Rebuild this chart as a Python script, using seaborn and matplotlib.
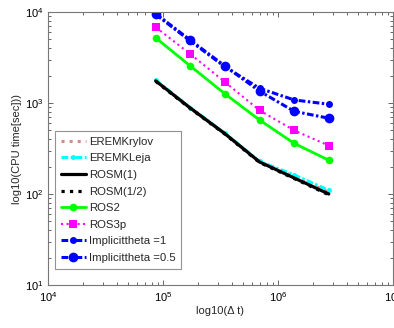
import numpy as np
import pandas as pd
import matplotlib
matplotlib.use("Agg")
import matplotlib.pyplot as plt
import matplotlib.ticker as mticker
import seaborn as sns

# time steps (1 day, 2 days, 4 days, ...) in seconds
dt = [86400, 172800, 345600, 691200, 1382400, 2764800]

# CPU times [sec]
erem_krylov = [1760, 875, 458, 226, 155, 105]
erem_leja = [1780, 890, 465, 228, 162, 110]
rosm_1 = [1750, 880, 460, 225, 150, 100]
rosm_half = [1730, 870, 455, 222, 148, 98]
ros2 = [5200, 2550, 1260, 650, 360, 235]
ros3p = [6800, 3450, 1700, 830, 500, 340]
implicit_1 = [9400, 4800, 2500, 1450, 1080, 970]
implicit_half = [9600, 4900, 2550, 1350, 810, 680]

dashdot = (0, (2.2, 0.8, 0.8, 0.8))
series = [
    ("EREMKrylov", erem_krylov, dict(color="#d88a8a", linestyle=":", lw=2.2)),
    ("EREMKLeja", erem_leja, dict(color="#00ffff", linestyle=dashdot, lw=2.2, marker="o", ms=3.5)),
    ("ROSM(1)", rosm_1, dict(color="black", linestyle="-", lw=2.3)),
    ("ROSM(1/2)", rosm_half, dict(color="black", linestyle=":", lw=2.3)),
    ("ROS2", ros2, dict(color="#00ff00", linestyle="-", lw=2.0, marker="o", ms=5.5)),
    ("ROS3p", ros3p, dict(color="#ff00ff", linestyle=":", lw=1.5, marker="s", ms=6)),
    ("Implicittheta =1", implicit_1, dict(color="#0000ff", linestyle=dashdot, lw=2.2, marker="o", ms=5)),
    ("Implicittheta =0.5", implicit_half, dict(color="#0000ff", linestyle=dashdot, lw=2.2, marker="o", ms=7)),
]

sns.set_theme(style="ticks")
plt.rcParams["font.family"] = ["Liberation Sans", "DejaVu Sans"]
plt.rcParams["xtick.direction"] = "in"
plt.rcParams["ytick.direction"] = "in"
plt.rcParams["xtick.top"] = True
plt.rcParams["ytick.right"] = True

fig = plt.figure(figsize=(3.94, 3.28), dpi=100)
ax = fig.add_axes([48 / 394, 43 / 328, 345 / 394, 273 / 328])

for name, vals, kw in series:
    sns.lineplot(x=dt, y=vals, ax=ax, label=name, markeredgewidth=0, **kw)

ax.set_xscale("log")
ax.set_yscale("log")
ax.set_xlim(1e4, 1e7)
ax.set_ylim(1e1, 1e4)
ax.xaxis.set_minor_locator(mticker.LogLocator(base=10, subs=np.arange(2, 10), numticks=20))
ax.yaxis.set_minor_locator(mticker.LogLocator(base=10, subs=np.arange(2, 10), numticks=20))
ax.xaxis.set_minor_formatter(mticker.NullFormatter())
ax.yaxis.set_minor_formatter(mticker.NullFormatter())
ax.set_xlabel("log10(\u0394 t)", fontsize=8, labelpad=2)
ax.set_ylabel("log10(CPU time[sec]))", fontsize=8, labelpad=2)
ax.tick_params(which="both", labelsize=8, color="#666666", labelcolor="black", width=0.7)
ax.tick_params(which="major", length=3.5)
ax.tick_params(which="minor", length=2.2)
for sp in ax.spines.values():
    sp.set_color("#777777")
    sp.set_linewidth(0.8)

leg = ax.legend(loc="lower left", bbox_to_anchor=(0.02, 0.06), fontsize=8.2,
                frameon=True, fancybox=False, handlelength=2.2, labelspacing=0.58,
                borderpad=0.5, handletextpad=0.3, borderaxespad=0)
leg.get_frame().set_edgecolor("#777777")
leg.get_frame().set_linewidth(0.8)

fig.savefig("out.png", dpi=100)
